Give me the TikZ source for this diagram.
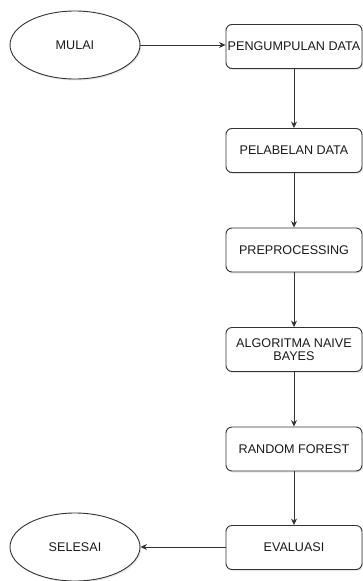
\documentclass[tikz,border=0pt]{standalone}
\usepackage{fontspec}
\setmainfont{Liberation Sans}
\usetikzlibrary{shapes.geometric,arrows.meta,shadows}
\definecolor{linec}{HTML}{333333}
\definecolor{textc}{HTML}{1A1A1A}
\tikzset{
  stepbox/.style={draw=linec, line width=0.9pt, rounded corners=6pt, fill=white,
    minimum width=136pt, minimum height=44pt, inner sep=0pt, align=center,
    text=textc, font=\fontsize{12.6}{13.6}\selectfont,
    drop shadow={opacity=0.18, shadow xshift=1.2pt, shadow yshift=-1.5pt}},
  term/.style={ellipse, draw=linec, line width=0.9pt, fill=white,
    minimum width=130pt, minimum height=68pt, inner sep=0pt,
    text=textc, font=\fontsize{12.6}{13.6}\selectfont,
    drop shadow={opacity=0.18, shadow xshift=1.2pt, shadow yshift=-1.5pt}},
  conn/.style={draw=linec, line width=0.9pt, -{Stealth[length=6.5pt,width=6pt]}}
}
\begin{document}
\begin{tikzpicture}[x=1pt,y=-1pt]
\useasboundingbox (0,0) rectangle (363,581);
\node[term] (mulai) at (75,45) {MULAI};
\node[stepbox] (b1) at (294,46.5) {PENGUMPULAN DATA};
\node[stepbox] (b2) at (294,150.5) {PELABELAN DATA};
\node[stepbox] (b3) at (294,250) {PREPROCESSING};
\node[stepbox] (b4) at (294,349.5) {ALGORITMA NAIVE\\BAYES};
\node[stepbox] (b5) at (294,449) {RANDOM FOREST};
\node[stepbox] (b6) at (294,547.5) {EVALUASI};
\node[term] (selesai) at (75,547) {SELESAI};
\draw[conn] (mulai.east) -- (mulai.east -| b1.west);
\draw[conn] (b1) -- (b2);
\draw[conn] (b2) -- (b3);
\draw[conn] (b3) -- (b4);
\draw[conn] (b4) -- (b5);
\draw[conn] (b5) -- (b6);
\draw[conn] (b6.west |- selesai.east) -- (selesai.east);
\end{tikzpicture}
\end{document}
